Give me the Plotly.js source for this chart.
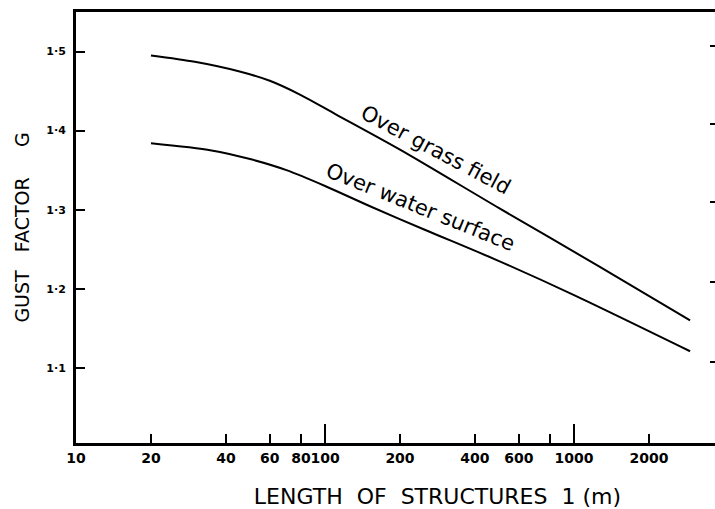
<!DOCTYPE html>
<html>
<head>
<meta charset="utf-8">
<script src="https://cdn.plot.ly/plotly-3.0.1.min.js"></script>
<style>html,body{margin:0;padding:0;background:#fff;}#chart{width:715px;height:509px;}</style>
</head>
<body>
<div id="chart"></div>
<script>
// Data
const grassL = [20, 30, 45, 60, 80, 110, 200, 500, 1250, 2924];
const grassG = [1.495, 1.487, 1.475, 1.463, 1.445, 1.421, 1.376, 1.302, 1.229, 1.160];
const waterL = [20, 35, 50, 70, 100, 150, 250, 500, 1000, 2924];
const waterG = [1.384, 1.375, 1.364, 1.350, 1.330, 1.305, 1.275, 1.235, 1.192, 1.121];

const xTickVals = [10, 20, 40, 60, 80, 100, 200, 400, 600, 800, 1000, 2000];
const xTickText = ['10', '20', '40', '60', '80', '100', '200', '400', '600', '', '1000', '2000'];
const longTickVals = [100, 1000];
const yTickVals = [1.1, 1.2, 1.3, 1.4, 1.5];
const yTickText = ['1·1', '1·2', '1·3', '1·4', '1·5'];
const rightTickVals = [1.108, 1.208, 1.310, 1.409, 1.507];

const seriesNames = ['Over grass field', 'Over water surface'];

const xRange = [1, 3.566];
const yRange = [1.005, 1.55];
const FONT = 'DejaVu Sans, sans-serif';
const NB = '\u00a0';

const traces = [
  {x: grassL, y: grassG, mode: 'lines', name: seriesNames[0],
   line: {color: '#000', width: 2, shape: 'spline', smoothing: 0.8}, hoverinfo: 'skip'},
  {x: waterL, y: waterG, mode: 'lines', name: seriesNames[1],
   line: {color: '#000', width: 2, shape: 'spline', smoothing: 0.8}, hoverinfo: 'skip'},
  // carrier for the overlay axes (long ticks at decades, right-hand ticks)
  {x: [longTickVals[0]], y: [yTickVals[0]], xaxis: 'x2', yaxis: 'y2', mode: 'markers',
   marker: {opacity: 0}, hoverinfo: 'skip', showlegend: false}
];

const layout = {
  width: 715, height: 509,
  margin: {l: 76, r: 0, t: 12, b: 66, pad: 0},
  paper_bgcolor: '#fff', plot_bgcolor: '#fff',
  showlegend: false,
  font: {family: FONT, color: '#000'},
  xaxis: {
    type: 'log', range: xRange, tickmode: 'array', tickvals: xTickVals, ticktext: xTickText,
    ticks: 'inside', ticklen: 9, tickwidth: 2, tickcolor: '#000', tickangle: 0,
    showline: true, linewidth: 3, linecolor: '#000', mirror: true,
    showgrid: false, zeroline: false, ticklabelstandoff: 0,
    tickfont: {family: FONT, size: 14, weight: 'bold', color: '#000'},
    title: {text: '\u200b' + NB.repeat(12) + 'LENGTH' + NB + NB + 'OF' + NB + NB + 'STRUCTURES' + NB + NB + '1' + NB + '(m)',
            font: {family: FONT, size: 22, color: '#000'}}
  },
  yaxis: {
    range: yRange, tickmode: 'array', tickvals: yTickVals, ticktext: yTickText,
    ticks: 'inside', ticklen: 9, tickwidth: 2, tickcolor: '#000',
    showline: true, linewidth: 3, linecolor: '#000',
    showgrid: false, zeroline: false, ticklabelstandoff: 5,
    tickfont: {family: FONT, size: 11, weight: 'bold', color: '#000'},
    title: {text: 'GUST' + NB.repeat(3) + 'FACTOR' + NB.repeat(5) + 'G', standoff: 12,
            font: {family: FONT, size: 19, color: '#000'}}
  },
  xaxis2: {
    type: 'log', range: xRange, overlaying: 'x', anchor: 'y', side: 'bottom',
    tickmode: 'array', tickvals: longTickVals, ticks: 'inside', ticklen: 19, tickwidth: 2,
    tickcolor: '#000', showticklabels: false, showline: false, showgrid: false, zeroline: false
  },
  yaxis2: {
    range: yRange, overlaying: 'y', anchor: 'x', side: 'right',
    tickmode: 'array', tickvals: rightTickVals, ticks: 'inside', ticklen: 5, tickwidth: 2,
    tickcolor: '#000', showticklabels: false, showline: false, showgrid: false, zeroline: false
  },
  annotations: [
    {x: Math.log10(279), y: 1.376, xref: 'x', yref: 'y', text: seriesNames[0], showarrow: false,
     textangle: 28, font: {family: FONT, size: 21, color: '#000'}},
    {x: Math.log10(241), y: 1.304, xref: 'x', yref: 'y', text: seriesNames[1], showarrow: false,
     textangle: 22, font: {family: FONT, size: 21, color: '#000'}}
  ]
};

Plotly.newPlot('chart', traces, layout, {displayModeBar: false, staticPlot: true});
</script>
</body>
</html>
